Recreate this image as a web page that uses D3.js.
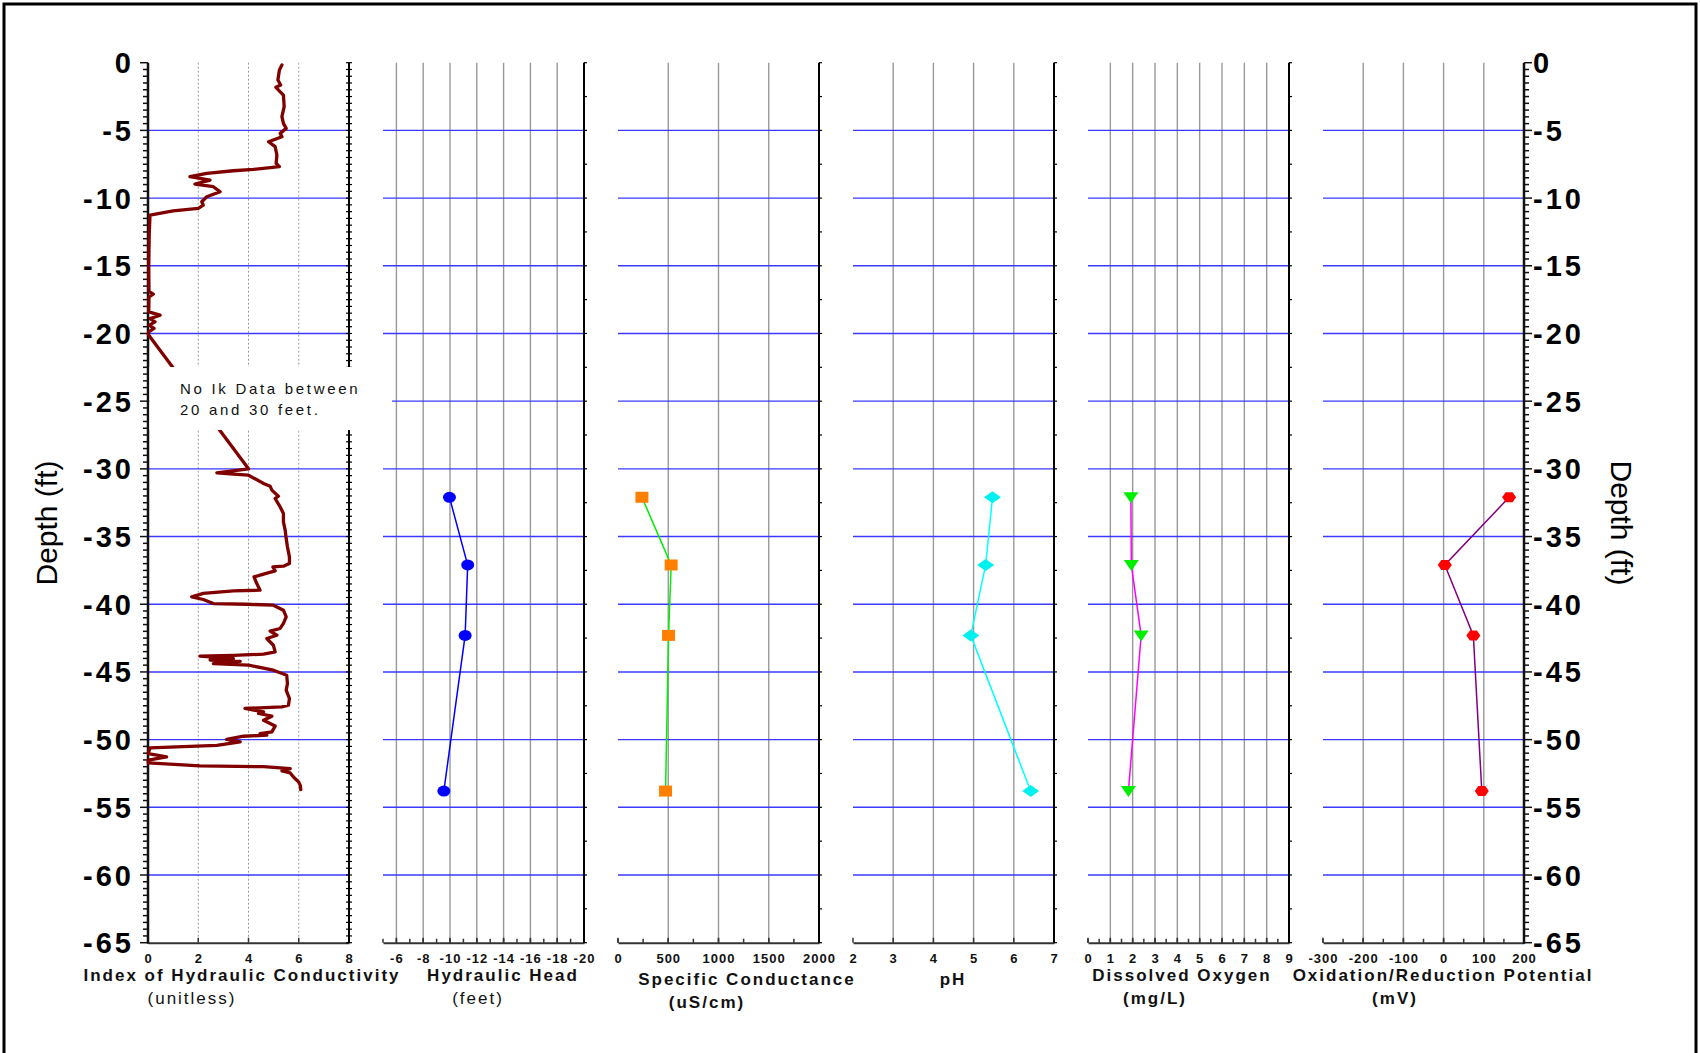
<!DOCTYPE html>
<html><head><meta charset="utf-8">
<script src="https://cdn.jsdelivr.net/npm/d3@7"></script>
<style>html,body{margin:0;padding:0;background:#fff;}svg{display:block;}</style>
</head><body>
<script>
// ---------- data ----------
const depthTicks = [0,-5,-10,-15,-20,-25,-30,-35,-40,-45,-50,-55,-60,-65];
const gridDepths = [-5,-10,-15,-20,-25,-30,-35,-40,-45,-50,-55,-60];
const sampleDepth = [-32.1, -37.1, -42.3, -53.8];
const headValues = [-9.96, -11.32, -11.13, -9.54];
const condValues = [238, 529, 503, 473];
const phValues = [5.47, 5.30, 4.93, 6.42];
const doValues = [1.92, 1.94, 2.38, 1.81];
const orpValues = [163, 3, 74, 95];

const ikIndex = [5.33,5.23,5.17,5.28,5.09,5.39,5.42,5.33,5.39,5.50,5.26,5.33,4.80,5.06,5.13,5.10,5.23,4.2,3.4,2.34,1.67,2.47,1.87,2.6,2.87,2.34,2.14,2.2,2.0,1.0,0.08,0.05,0.03,0.04,0.21,0.04,0.03,0.48,0.08,0.28,0.05,0.24,0.03,0.01,
4.0,2.74,3.4,4.0,4.6,4.86,4.93,5.19,5.06,5.26,5.39,5.39,5.46,5.50,5.55,5.63,5.63,5.39,4.97,5.06,4.6,4.22,4.33,4.46,3.4,2.2,1.74,2.2,2.6,3.93,4.99,5.39,5.50,5.39,5.26,4.86,5.13,4.73,4.99,5.06,4.6,3.4,2.07,3.4,2.47,3.67,2.6,4.0,4.99,5.52,5.55,5.5,5.63,5.59,5.33,3.86,4.6,4.4,4.93,4.6,5.06,4.93,4.46,4.73,3.8,3.13,3.67,2.74,0.08,0.01,0.74,0.01,0.01,2.07,4.6,5.66,5.33,5.66,5.79,5.99,6.06,6.08];
const ikDepth = [-0.17,-0.54,-1.28,-1.65,-1.82,-2.39,-3.25,-3.99,-4.48,-4.85,-5.22,-5.47,-5.84,-6.2,-6.82,-7.44,-7.68,-7.88,-7.98,-8.18,-8.42,-8.67,-8.97,-9.16,-9.53,-9.9,-10.27,-10.52,-10.76,-10.94,-11.26,-12.6,-15.07,-16.9,-17.09,-17.29,-18.4,-18.65,-18.9,-19.14,-19.38,-19.63,-19.88,-20.07,
-30.0,-30.29,-30.39,-30.47,-31.08,-31.28,-31.57,-32.02,-32.19,-32.81,-33.3,-33.91,-34.53,-35.15,-35.76,-36.5,-36.99,-37.19,-37.24,-37.53,-37.78,-37.98,-38.47,-38.96,-39.01,-39.2,-39.45,-39.65,-39.95,-40.0,-40.07,-40.44,-40.93,-41.42,-41.79,-41.99,-42.29,-42.53,-43.03,-43.52,-43.69,-43.77,-43.84,-44.01,-44.12,-44.22,-44.38,-44.5,-44.87,-45.24,-45.86,-46.35,-46.97,-47.46,-47.58,-47.7,-47.95,-48.07,-48.27,-48.57,-49.0,-49.43,-49.55,-49.67,-49.75,-49.99,-50.16,-50.42,-50.61,-51.03,-51.28,-51.52,-51.72,-51.94,-52.0,-52.14,-52.31,-52.46,-52.76,-53.12,-53.37,-53.7];

const ikTicks = [0,2,4,6,8];
const headTicks = [-6,-8,-10,-12,-14,-16,-18,-20];
const condTicks = [0,500,1000,1500,2000];
const phTicks = [2,3,4,5,6,7];
const doTicks = [0,1,2,3,4,5,6,7,8,9];
const orpTicks = [-300,-200,-100,0,100,200];

const noteLines = ["No Ik Data between", "20 and 30 feet."];

// ---------- layout ----------
const W = 1700, H = 1053;
const FONT = "'Liberation Sans', Arial, sans-serif";
const fmt = d => String(d);
const svg = d3.select("body").append("svg").attr("width", W).attr("height", H);
svg.append("rect").attr("x",0).attr("y",0).attr("width",W).attr("height",H).attr("fill","#fff");
svg.append("rect").attr("x",4).attr("y",4).attr("width",1692).attr("height",1070)
  .attr("fill","none").attr("stroke","#000").attr("stroke-width",3);

const yTop = 62.7, yBot = 942.7;
const y = d3.scaleLinear().domain([0,-65]).range([yTop,yBot]);
const pw = 201;
const px = i => 148 + i*235;

const panels = [
  {domain:[0,8], ticks:ikTicks, minor:null, dotted:true, title:"Index of Hydraulic Conductivity", tx:242, sub:"(unitless)", sx:192, sb:false},
  {domain:[-5,-20], ticks:headTicks, minor:1, title:"Hydraulic Head", tx:503, sub:"(feet)", sx:478, sb:false, vals:headValues, line:"#0000ff", mark:"#0000ff", shape:"circle"},
  {domain:[0,2000], ticks:condTicks, minor:250, title:"Specific Conductance", tx:747, sub:"(uS/cm)", sx:707, sb:true, vals:condValues, line:"#00ee00", mark:"#ff8000", shape:"square", tyo:4},
  {domain:[2,7], ticks:phTicks, minor:null, title:"pH", tx:953, sub:null, vals:phValues, line:"#00ffff", mark:"#00f0f0", shape:"diamond", tyo:4},
  {domain:[0,9], ticks:doTicks, minor:0.5, title:"Dissolved Oxygen", tx:1182, sub:"(mg/L)", sx:1155, sb:true, vals:doValues, line:"#ff00ff", mark:"#00ee00", shape:"triangle"},
  {domain:[-300,200], ticks:orpTicks, minor:50, title:"Oxidation/Reduction Potential", tx:1443, sub:"(mV)", sx:1395, sb:true, vals:orpValues, line:"#800080", mark:"#ff0000", shape:"hex"}
];

function shapePath(s, cx, cy){
  if(s==="square") return `M${cx-6.5},${cy-5.5}h13v11h-13z`;
  if(s==="diamond") return `M${cx-8.5},${cy}L${cx},${cy-6}L${cx+8.5},${cy}L${cx},${cy+6}z`;
  if(s==="triangle") return `M${cx-7.5},${cy-5}L${cx+7.5},${cy-5}L${cx},${cy+6}z`;
  if(s==="hex") return `M${cx-7},${cy}L${cx-3.5},${cy-5}L${cx+3.5},${cy-5}L${cx+7},${cy}L${cx+3.5},${cy+5}L${cx-3.5},${cy+5}z`;
  return "";
}

panels.forEach((p,i)=>{
  const x0 = px(i), x1 = x0 + pw;
  const x = d3.scaleLinear().domain(p.domain).range([x0,x1]);
  p.x = x;
  const g = svg.append("g");
  const vg = p.ticks.filter(t => t!==p.domain[0] && t!==p.domain[1]);
  g.selectAll(null).data(vg).join("line")
    .attr("x1",d=>x(d)).attr("x2",d=>x(d)).attr("y1",yTop).attr("y2",yBot)
    .attr("stroke", p.dotted ? "#9a9a9a" : "#999").attr("stroke-width", p.dotted?1:1.4)
    .attr("stroke-dasharray", p.dotted ? "2,2" : null);
  g.selectAll(null).data(gridDepths).join("line")
    .attr("x1",x0).attr("x2",x1).attr("y1",d=>y(d)).attr("y2",d=>y(d))
    .attr("stroke","#3a3aff").attr("stroke-width",1.4);
  const ax = d3.axisBottom(x).tickValues(p.ticks).tickSize(0).tickPadding(0).tickFormat(fmt);
  const ag = g.append("g").attr("transform",`translate(0,${yBot})`).call(ax);
  ag.select(".domain").attr("stroke","#333").attr("stroke-width",2);
  ag.selectAll(".tick line").remove();
  ag.selectAll(".tick text").attr("y",20).attr("dy",null)
    .attr("font-family",FONT).attr("font-size",13).attr("font-weight","bold")
    .attr("letter-spacing",1).attr("fill","#111");
  g.selectAll(null).data(p.ticks).join("line")
    .attr("x1",d=>x(d)).attr("x2",d=>x(d)).attr("y1",yBot-5).attr("y2",yBot)
    .attr("stroke","#333").attr("stroke-width",1.5);
  if(p.minor){
    const mt = d3.range(Math.min(...p.domain), Math.max(...p.domain)+1e-9, p.minor);
    g.selectAll(null).data(mt).join("line")
      .attr("x1",d=>x(d)).attr("x2",d=>x(d)).attr("y1",yBot-4).attr("y2",yBot)
      .attr("stroke","#333").attr("stroke-width",1.5);
  }
  if(i<5){
    g.append("line").attr("x1",x1).attr("x2",x1).attr("y1",yTop).attr("y2",yBot)
      .attr("stroke","#000").attr("stroke-width",2);
    const bt = i===0 ? d3.range(0,-65.01,-0.5) : d3.range(0,-65.01,-2.5);
    g.selectAll(null).data(bt).join("line")
      .attr("x1", i===0 ? x1-3 : x1).attr("x2",x1+3).attr("y1",d=>y(d)).attr("y2",d=>y(d))
      .attr("stroke","#000").attr("stroke-width",1.2);
  }
  g.append("text").attr("x",p.tx).attr("y",981 + (p.tyo||0)).attr("text-anchor","middle")
    .attr("font-family",FONT).attr("font-size",17).attr("font-weight","bold")
    .attr("letter-spacing",2).attr("fill","#111").text(p.title);
  if(p.sub){
    g.append("text").attr("x",p.sx).attr("y",1004 + (p.tyo||0)).attr("text-anchor","middle")
      .attr("font-family",FONT).attr("font-size",17).attr("font-weight",p.sb?"bold":"normal")
      .attr("letter-spacing",2).attr("fill","#111").text(p.sub);
  }
});

function depthAxis(xa, dir){
  const g = svg.append("g");
  g.append("line").attr("x1",xa).attr("x2",xa).attr("y1",yTop).attr("y2",yBot+1)
    .attr("stroke","#111").attr("stroke-width",2.5);
  const minor = d3.range(0,-65.01,-0.5);
  g.selectAll(null).data(minor).join("line")
    .attr("x1",xa).attr("x2",d=> xa + dir*((Math.abs(d)%5===0)?8:5))
    .attr("y1",d=>y(d)).attr("y2",d=>y(d)).attr("stroke","#111").attr("stroke-width",1.5);
  g.selectAll(null).data(depthTicks).join("text")
    .attr("x", dir<0 ? 134 : 1533).attr("y",d=>y(d)+10.5)
    .attr("text-anchor", dir<0 ? "end" : "start")
    .attr("font-family",FONT).attr("font-size",29).attr("font-weight","bold")
    .attr("letter-spacing",3).attr("fill","#000").text(fmt);
}
depthAxis(148,-1);
depthAxis(px(5)+pw,1);

svg.append("text").attr("transform","translate(57,523) rotate(-90)").attr("text-anchor","middle")
  .attr("font-family",FONT).attr("font-size",30).attr("fill","#000").text("Depth (ft)");
svg.append("text").attr("transform","translate(1611,523) rotate(90)").attr("text-anchor","middle")
  .attr("font-family",FONT).attr("font-size",30).attr("fill","#000").text("Depth (ft)");

const ikX = panels[0].x;
const ikPts = ikIndex.map((v,k)=>[v, ikDepth[k]]);
svg.append("path").datum(ikPts)
  .attr("d", d3.line().x(d=>ikX(d[0])).y(d=>y(d[1])))
  .attr("fill","none").attr("stroke","#800000").attr("stroke-width",3.3)
  .attr("stroke-linejoin","round").attr("stroke-linecap","round");

svg.append("rect").attr("x",149.5).attr("y",367).attr("width",242.5).attr("height",63).attr("fill","#fff");
svg.append("text").attr("font-family",FONT).attr("font-size",15).attr("letter-spacing",2.7).attr("fill","#111")
  .selectAll("tspan").data(noteLines).join("tspan")
  .attr("x",180).attr("y",(d,k)=>394 + k*21).text(d=>d);

panels.slice(1).forEach(p=>{
  const pts = p.vals.map((v,k)=>[p.x(v), y(sampleDepth[k])]);
  svg.append("path").datum(pts).attr("d", d3.line())
    .attr("fill","none").attr("stroke",p.line).attr("stroke-width",1.5);
  pts.forEach(([cx,cy])=>{
    if(p.shape==="circle"){
      svg.append("ellipse").attr("cx",cx).attr("cy",cy).attr("rx",6.5).attr("ry",5.5).attr("fill",p.mark);
    } else {
      svg.append("path").attr("d",shapePath(p.shape,cx,cy)).attr("fill",p.mark);
    }
  });
});
</script>
</body></html>
